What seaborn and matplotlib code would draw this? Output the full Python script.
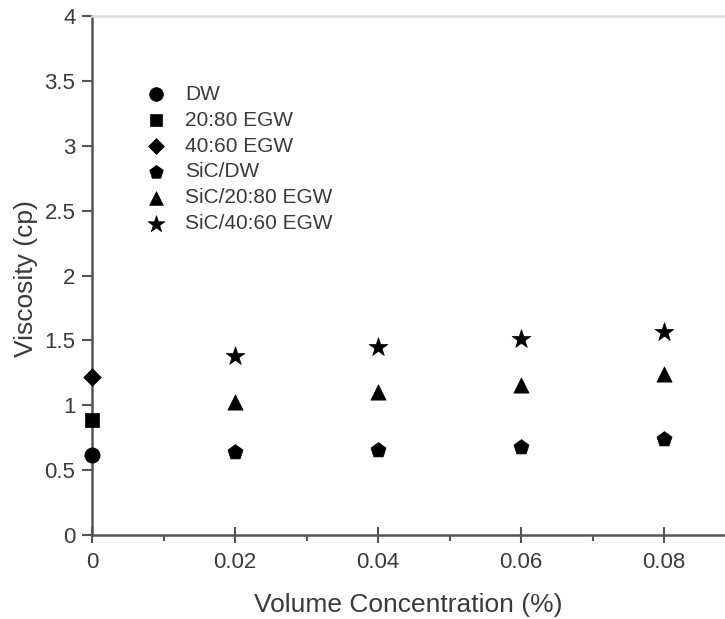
import numpy as np
import pandas as pd
import matplotlib.pyplot as plt
import seaborn as sns
from matplotlib.ticker import MultipleLocator

# data
base_x = [0.0]
dw = [0.62]
egw_2080 = [0.89]
egw_4060 = [1.22]

conc = [0.02, 0.04, 0.06, 0.08]
sic_dw = [0.64, 0.655, 0.68, 0.74]
sic_2080 = [1.025, 1.10, 1.16, 1.24]
sic_4060 = [1.38, 1.45, 1.51, 1.565]

labels = ["DW", "20:80 EGW", "40:60 EGW", "SiC/DW", "SiC/20:80 EGW", "SiC/40:60 EGW"]
markers = ["o", "s", "D", "p", "^", "*"]
sizes = [120, 90, 80, 130, 120, 200]

series = [(base_x, dw), (base_x, egw_2080), (base_x, egw_4060),
          (conc, sic_dw), (conc, sic_2080), (conc, sic_4060)]

rows = []
for lab, (xs, ys) in zip(labels, series):
    for x, y in zip(xs, ys):
        rows.append({"conc": x, "visc": y, "fluid": lab})
df = pd.DataFrame(rows)

sns.set_style("white")
plt.rcParams["font.family"] = ["Liberation Sans", "DejaVu Sans"]
txt = "#3a3a3a"

fig = plt.figure(figsize=(7.25, 6.19), dpi=100)
ax = fig.add_axes([0.127, 0.1357, 0.873, 0.838])

for lab, m, s in zip(labels, markers, sizes):
    sns.scatterplot(data=df[df["fluid"] == lab], x="conc", y="visc", marker=m, s=s,
                    color="black", edgecolor="black", linewidth=0.5, label=lab,
                    ax=ax, clip_on=False, zorder=3)

ax.set_xlim(0, 0.0885)
ax.set_ylim(0, 4)
ax.xaxis.set_major_locator(MultipleLocator(0.02))
ax.xaxis.set_minor_locator(MultipleLocator(0.01))
ax.yaxis.set_major_locator(MultipleLocator(0.5))
ax.xaxis.set_major_formatter(plt.FuncFormatter(lambda v, p: "0" if v == 0 else f"{v:.2f}"))
ax.yaxis.set_major_formatter(plt.FuncFormatter(lambda v, p: f"{v:g}"))

for side in ["left", "bottom"]:
    ax.spines[side].set_color("#555555")
    ax.spines[side].set_linewidth(1.8)
ax.spines["top"].set_color("#dddddd")
ax.spines["top"].set_linewidth(1.8)
ax.spines["right"].set_visible(False)

ax.tick_params(axis="y", which="major", direction="out", length=7, width=1.5,
               color="#555555", labelsize=16, labelcolor=txt, left=True, pad=5)
ax.tick_params(axis="x", which="major", direction="inout", length=12, width=1.5,
               color="#555555", labelsize=16, labelcolor=txt, bottom=True, pad=6)
ax.tick_params(axis="x", which="minor", direction="out", length=4, width=1.5,
               color="#555555", bottom=True)

ax.set_xlabel("Volume Concentration (%)", fontsize=19, color=txt)
ax.set_ylabel("Viscosity (cp)", fontsize=19, color=txt)
ax.xaxis.set_label_coords(0.5, -0.112)
ax.yaxis.set_label_coords(-0.085, 0.495)

ax.legend(loc="upper left", bbox_to_anchor=(0.084, 0.868), frameon=False,
          fontsize=15, labelcolor=txt, handlelength=1.0, handletextpad=0.9,
          labelspacing=0.33, markerscale=0.9, borderaxespad=0, borderpad=0)

fig.savefig("out.png", dpi=100)
